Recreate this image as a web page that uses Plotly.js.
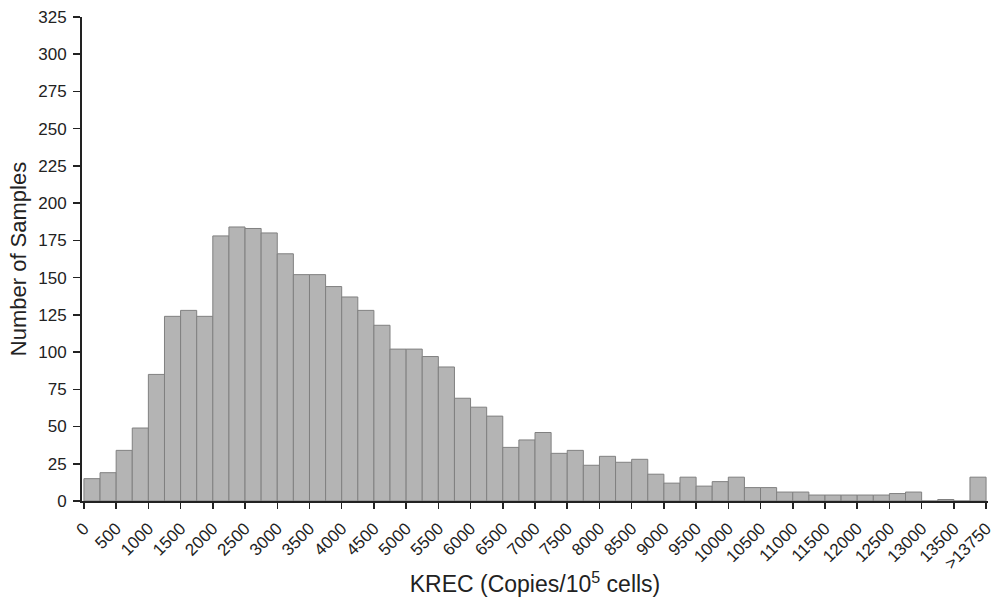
<!DOCTYPE html>
<html>
<head>
<meta charset="utf-8">
<script src="https://cdn.plot.ly/plotly-3.0.1.min.js"></script>
<style>html,body{margin:0;padding:0;background:#fff;}#chart{width:996px;height:609px;}</style>
</head>
<body>
<div id="chart"></div>
<script>
// Bin lower edges (KREC copies/10^5 cells), bin width 250; last bin is ">13750"
const binWidth = 250;
const binStarts = [0,250,500,750,1000,1250,1500,1750,2000,2250,2500,2750,3000,3250,3500,3750,4000,4250,4500,4750,
  5000,5250,5500,5750,6000,6250,6500,6750,7000,7250,7500,7750,8000,8250,8500,8750,9000,9250,9500,9750,
  10000,10250,10500,10750,11000,11250,11500,11750,12000,12250,12500,12750,13000,13250,13500,13750];
const counts = [15,19,34,49,85,124,128,124,178,184,183,180,166,152,152,144,137,128,118,102,
  102,97,90,69,63,57,36,41,46,32,34,24,30,26,28,18,12,16,10,13,
  16,9,9,6,6,4,4,4,4,4,5,6,0,1,0,16];
const tickVals = [0,500,1000,1500,2000,2500,3000,3500,4000,4500,5000,5500,6000,6500,7000,7500,8000,8500,9000,9500,
  10000,10500,11000,11500,12000,12500,13000,13500,14000];
const tickText = ["0","500","1000","1500","2000","2500","3000","3500","4000","4500","5000","5500","6000","6500","7000","7500","8000","8500","9000","9500",
  "10000","10500","11000","11500","12000","12500","13000","13500",">13750"];
const yTicks = [0,25,50,75,100,125,150,175,200,225,250,275,300,325];

const trace = {
  type: 'bar',
  x: binStarts.map(s => s + binWidth / 2),
  y: counts,
  width: binStarts.map(() => binWidth),
  marker: {color: '#b4b4b4', line: {color: '#808080', width: 1}},
  hoverinfo: 'x+y'
};

const font = {family: 'Liberation Sans, Arial, sans-serif', color: '#222'};
const layout = {
  width: 996, height: 609,
  margin: {l: 82, r: 8, t: 17, b: 108},
  paper_bgcolor: '#fff', plot_bgcolor: '#fff',
  showlegend: false,
  bargap: 0,
  font: font,
  xaxis: {
    range: [-30, 14030],
    tickmode: 'array', tickvals: tickVals, ticktext: tickText,
    tickangle: -45,
    tickfont: {family: font.family, size: 17, color: '#222'},
    ticks: 'outside', ticklen: 6, tickwidth: 1.5, tickcolor: '#222',
    ticklabelstandoff: 3,
    showline: true, linecolor: '#222', linewidth: 2,
    showgrid: false, zeroline: false,
    title: {text: 'KREC (Copies/10<sup>5</sup> cells)', font: {family: font.family, size: 23, color: '#222'}, standoff: 4}
  },
  yaxis: {
    range: [0, 325],
    tickmode: 'array', tickvals: yTicks,
    tickfont: {family: font.family, size: 17, color: '#222'},
    ticks: 'outside', ticklen: 7, tickwidth: 1.5, tickcolor: '#222',
    ticklabelstandoff: 3,
    showline: true, linecolor: '#222', linewidth: 2,
    showgrid: false, zeroline: false,
    title: {text: 'Number of Samples', font: {family: font.family, size: 22, color: '#222'}, standoff: 6}
  }
};

Plotly.newPlot('chart', [trace], layout, {displayModeBar: false, staticPlot: true});
</script>
</body>
</html>
